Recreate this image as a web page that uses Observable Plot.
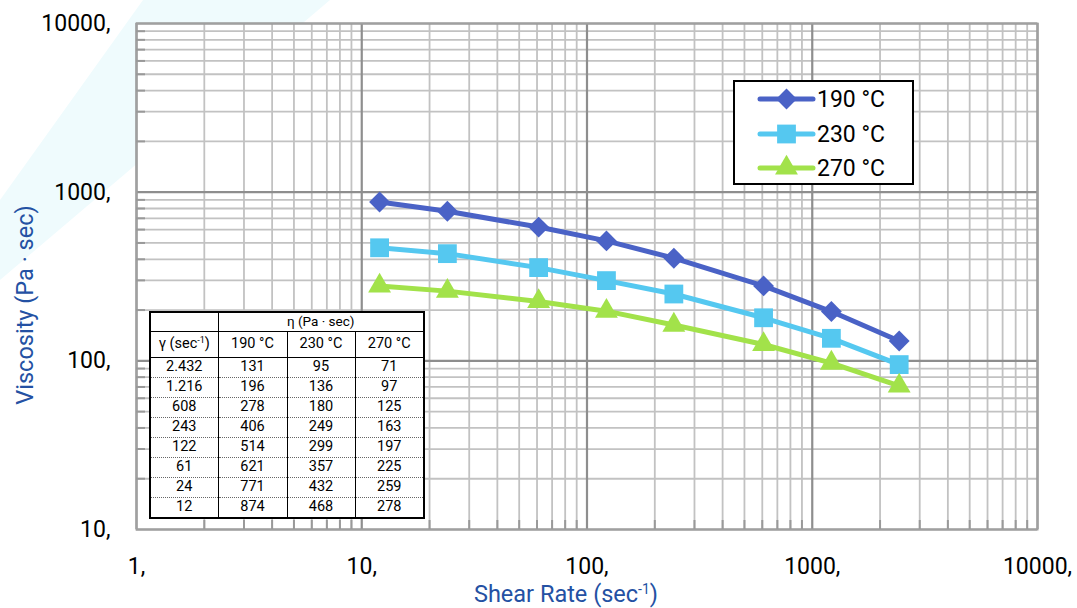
<!DOCTYPE html>
<html><head><meta charset="utf-8">
<script src="https://cdn.jsdelivr.net/npm/d3@7"></script>
<script src="https://cdn.jsdelivr.net/npm/@observablehq/plot@0.6"></script>
<style>
html,body{margin:0;padding:0;background:#fff;}
#wrap{position:relative;width:1077px;height:608px;overflow:hidden;font-family:Roboto,"Noto Sans",sans-serif;}
#bg{position:absolute;left:0;top:0;width:1077px;height:608px;background:#effbfd;clip-path:polygon(0 200px,143px 0,330px 0,0 280px);}
#chart{position:absolute;left:0;top:0;}
.ytitle{position:absolute;left:25px;top:305px;transform:translate(-50%,-50%) rotate(-90deg);white-space:nowrap;color:#2451a3;font-size:23.5px;}
.xtitle{position:absolute;left:566px;top:594px;transform:translate(-50%,-50%);white-space:nowrap;color:#2451a3;font-size:23.5px;}
.xtitle sup{font-size:14px;vertical-align:8px;line-height:0;}
#legend{position:absolute;left:733px;top:80px;width:181px;height:105px;box-sizing:border-box;border:2px solid #000;background:#fff;}
.lrow{position:absolute;left:0;height:34px;width:100%;}
.lrow svg{position:absolute;left:20px;top:0;}
.lrow span{position:absolute;left:82px;top:50%;transform:translateY(-50%);font-size:23px;color:#000;white-space:nowrap;}
#tbl{position:absolute;left:149px;top:311px;border-collapse:collapse;background:#fff;table-layout:fixed;font-size:14.5px;color:#000;border:2px solid #000;}
#tbl td{padding:0;text-align:center;border-left:1.5px solid #000;border-right:1.5px solid #000;line-height:1;white-space:nowrap;}
#tbl tr.h1 td{height:18px;border-bottom:1.5px solid #000;font-size:13.5px;}
#tbl tr.h2 td{height:25px;border-bottom:1.5px solid #000;}
#tbl tr.d td{height:19px;border-top:1px dotted #666;}
#tbl tr.d:first-of-type td{border-top:1.5px solid #000;}
#tbl sup{font-size:9px;vertical-align:5px;line-height:0;}
</style>
</head><body>
<div id="wrap">
  <div id="bg"></div>
  <div id="chart"></div>
  <div class="ytitle">Viscosity (Pa · sec)</div>
  <div class="xtitle">Shear Rate (sec<sup>-1</sup>)</div>
  <div id="legend"></div>
  <table id="tbl"></table>
</div>
<script>
// ---- data ----
const shearRate = [12, 24, 61, 122, 243, 608, 1216, 2432];
const visc190 = [874, 771, 621, 514, 406, 278, 196, 131];
const visc230 = [468, 432, 357, 299, 249, 180, 136, 95];
const visc270 = [278, 259, 225, 197, 163, 125, 97, 71];
const seriesNames = ["190 °C", "230 °C", "270 °C"];
const seriesColors = ["#4a62c6", "#55c8f0", "#a2e24a"];
const seriesSymbols = ["diamond2", "square", "triangle"];
const xTicks = [1, 10, 100, 1000, 10000];
const yTicks = [10, 100, 1000, 10000];
const tableHeader = "η (Pa · sec)";
const tableRateHeader = "γ (sec<sup>-1</sup>)";

// minor grid values (2..9 of each decade)
const decadeMinor = (lo, hi) => {
  const out = [];
  for (let d = lo; d < hi; d *= 10) for (let k = 2; k <= 9; k++) out.push(d * k);
  return out;
};
const xMinor = decadeMinor(1, 10000);
const yMinor = decadeMinor(10, 10000);

const allVisc = [visc190, visc230, visc270];
const rows = allVisc.map((vals, s) => shearRate.map((x, i) => ({x, y: vals[i], s})));
const symbolR = {diamond2: 9.4, square: 10.6, triangle: 8.5};

const fmt = d => d + ",";

const plot = Plot.plot({
  width: 1077,
  height: 608,
  marginLeft: 136,
  marginRight: 40,
  marginTop: 23,
  marginBottom: 79,
  style: {fontFamily: "Roboto, 'Noto Sans', sans-serif", background: "transparent", color: "#000", overflow: "visible"},
  x: {type: "log", domain: [1, 10000]},
  y: {type: "log", domain: [10, 10000]},
  marks: [
    Plot.frame({fill: "#fff", stroke: null}),
    Plot.ruleX(xMinor, {stroke: "#c2c2c2", strokeWidth: 1.8}),
    Plot.ruleY(yMinor, {stroke: "#c2c2c2", strokeWidth: 1.8}),
    Plot.ruleX(xTicks, {stroke: "#8e8e8e", strokeWidth: 2.2}),
    Plot.ruleY(yTicks, {stroke: "#8e8e8e", strokeWidth: 2.2}),
    Plot.frame({stroke: "#a0a0a0", strokeWidth: 2}),
    Plot.axisX(xMinor, {anchor: "bottom", tickSize: -9, tickFormat: () => "", stroke: "#999", strokeWidth: 2, label: null}),
    Plot.axisY(yMinor, {anchor: "left", tickSize: -9, tickFormat: () => "", stroke: "#999", strokeWidth: 2, label: null}),
    Plot.axisX(xTicks, {anchor: "bottom", tickSize: 0, tickPadding: 28, tickFormat: fmt, fontSize: 23, label: null}),
    Plot.axisY(yTicks, {anchor: "left", tickSize: 0, tickPadding: 26, tickFormat: fmt, fontSize: 23, label: null}),
    ...rows.map((data, s) => Plot.line(data, {x: "x", y: "y", stroke: seriesColors[s], strokeWidth: 5})),
    ...rows.map((data, s) => Plot.dot(data, {x: "x", y: "y", fill: seriesColors[s], symbol: seriesSymbols[s], r: symbolR[seriesSymbols[s]]}))
  ]
});
document.getElementById("chart").appendChild(plot);

// ---- legend ----
const d3Sym = {diamond2: d3.symbolDiamond2, square: d3.symbolSquare, triangle: d3.symbolTriangle};
const legend = document.getElementById("legend");
seriesNames.forEach((name, s) => {
  const row = document.createElement("div");
  row.className = "lrow";
  row.style.top = (0 + s * 34.5) + "px";
  const sym = seriesSymbols[s];
  const r = symbolR[sym];
  const path = d3.symbol(d3Sym[sym], Math.PI * r * r)();
  row.innerHTML = `<svg width="64" height="34"><line x1="5" y1="17" x2="58" y2="17" stroke="${seriesColors[s]}" stroke-width="5" stroke-linecap="round"/><path transform="translate(31.5,17)" d="${path}" fill="${seriesColors[s]}"/></svg><span>${name}</span>`;
  legend.appendChild(row);
});

// ---- table ----
const fmtRate = d => String(d).replace(/\B(?=(\d{3})+(?!\d))/g, ".");
const tbl = document.getElementById("tbl");
let html = `<colgroup><col style="width:68px"><col style="width:69px"><col style="width:68px"><col style="width:69px"></colgroup>`;
html += `<tr class="h1"><td></td><td colspan="3">${tableHeader}</td></tr>`;
html += `<tr class="h2"><td>${tableRateHeader}</td>${seriesNames.map(n => `<td>${n}</td>`).join("")}</tr>`;
for (let i = shearRate.length - 1; i >= 0; i--) {
  html += `<tr class="d"><td>${fmtRate(shearRate[i])}</td>${allVisc.map(v => `<td>${v[i]}</td>`).join("")}</tr>`;
}
tbl.innerHTML = html;
</script>
</body></html>
